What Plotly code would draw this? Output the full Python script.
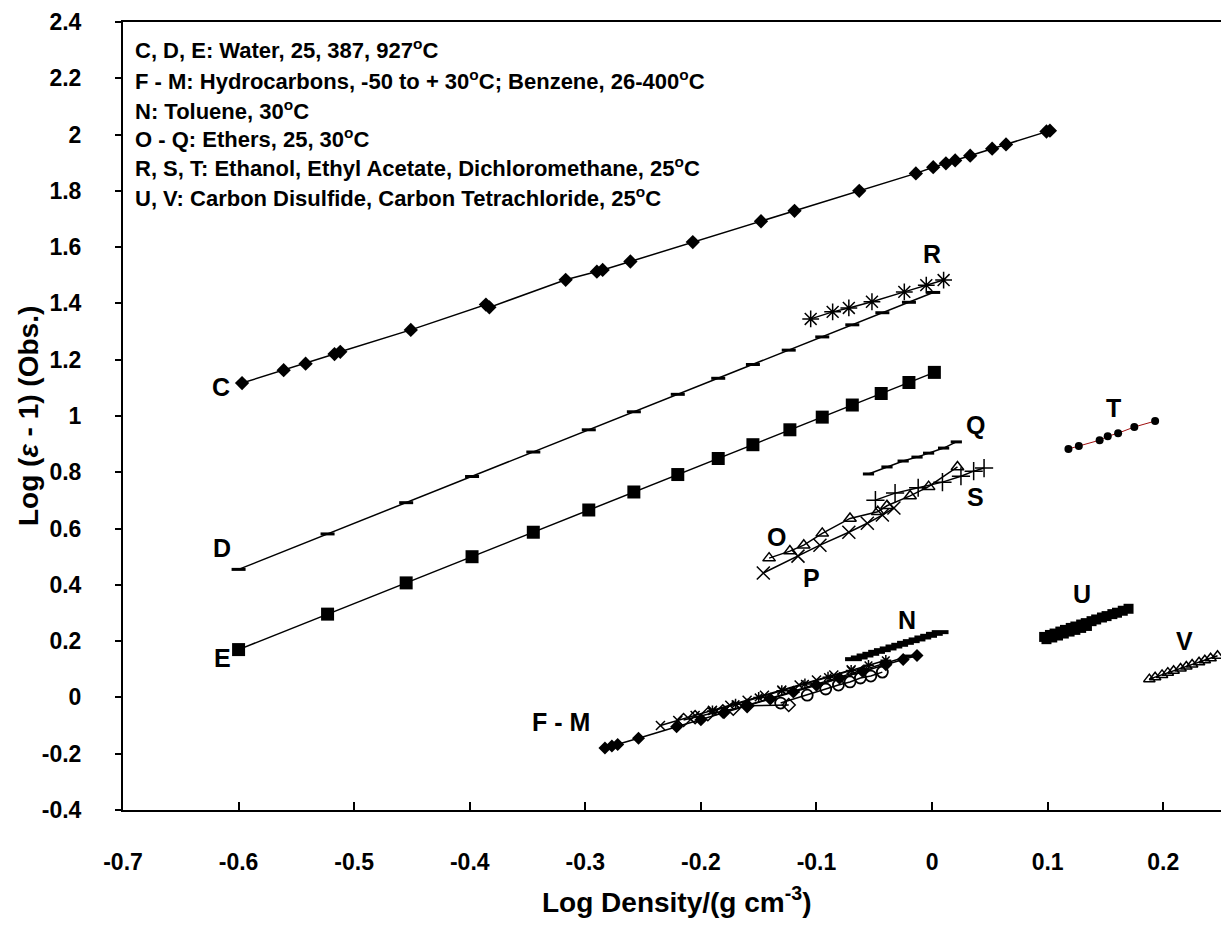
import plotly.graph_objects as go

# ---------------- data ----------------
C_x = [-0.597, -0.561, -0.542, -0.517, -0.512, -0.451, -0.386, -0.383, -0.317, -0.290, -0.285,
       -0.261, -0.207, -0.148, -0.119, -0.063, -0.014, 0.001, 0.012, 0.020, 0.033, 0.052, 0.064, 0.099, 0.102]
C_y = [1.117, 1.163, 1.186, 1.220, 1.228, 1.306, 1.396, 1.386, 1.484, 1.513, 1.519,
       1.549, 1.618, 1.692, 1.729, 1.800, 1.862, 1.884, 1.898, 1.908, 1.925, 1.950, 1.965, 2.011, 2.014]

D_x = [-0.600, -0.523, -0.455, -0.398, -0.345, -0.297, -0.258, -0.220, -0.185, -0.155,
       -0.124, -0.095, -0.069, -0.043, -0.020, 0.001]
D_y = [0.455, 0.581, 0.692, 0.785, 0.872, 0.951, 1.015, 1.077, 1.134, 1.183,
       1.234, 1.281, 1.324, 1.367, 1.404, 1.439]

E_x = [-0.600, -0.523, -0.455, -0.398, -0.345, -0.297, -0.258, -0.220, -0.185, -0.155,
       -0.123, -0.095, -0.069, -0.044, -0.020, 0.002]
E_y = [0.170, 0.296, 0.407, 0.500, 0.587, 0.666, 0.730, 0.792, 0.849, 0.898,
       0.951, 0.996, 1.039, 1.080, 1.119, 1.155]

# F - M : hydrocarbons / benzene
F_x = [-0.283, -0.277, -0.272, -0.254, -0.221, -0.200, -0.180, -0.160, -0.140, -0.120,
       -0.100, -0.080, -0.060, -0.040, -0.025, -0.013]
F_y = [-0.180, -0.173, -0.167, -0.145, -0.104, -0.079, -0.054, -0.030, -0.006, 0.019,
       0.043, 0.068, 0.092, 0.116, 0.135, 0.149]
G_x = [-0.215, -0.205, -0.194, -0.181, -0.172, -0.160, -0.124]
G_y = [-0.080, -0.070, -0.060, -0.049, -0.040, -0.030, -0.027]
H_x = [-0.131, -0.108, -0.092, -0.081, -0.071, -0.062, -0.053, -0.043]
H_y = [-0.020, 0.008, 0.030, 0.044, 0.055, 0.069, 0.076, 0.090]
I_x = [-0.235, -0.220, -0.205, -0.190, -0.175, -0.160, -0.145, -0.130, -0.115, -0.100, -0.085, -0.070]
I_y = [-0.100, -0.082, -0.064, -0.046, -0.028, -0.010, 0.008, 0.026, 0.044, 0.062, 0.080, 0.098]
J_x = [-0.190, -0.170, -0.150, -0.130, -0.110, -0.090, -0.070, -0.055, -0.040]
J_y = [-0.048, -0.024, 0.000, 0.024, 0.048, 0.072, 0.096, 0.114, 0.132]
K_x = [-0.160, -0.140, -0.120, -0.100, -0.080, -0.060, -0.040, -0.020]
K_y = [-0.028, -0.003, 0.022, 0.047, 0.072, 0.097, 0.122, 0.147]

N_x = [-0.068, -0.063, -0.058, -0.053, -0.048, -0.043, -0.038, -0.033, -0.028, -0.023,
       -0.018, -0.013, -0.008, -0.003, 0.002, 0.007]
N_y = [0.136, 0.142, 0.149, 0.155, 0.162, 0.168, 0.174, 0.181, 0.187, 0.194,
       0.200, 0.206, 0.213, 0.219, 0.226, 0.232]

O_x = [-0.141, -0.123, -0.111, -0.095, -0.071, -0.047, -0.039, -0.019, -0.003, 0.022]
O_y = [0.495, 0.520, 0.541, 0.583, 0.636, 0.660, 0.681, 0.716, 0.749, 0.819]
P_x = [-0.146, -0.116, -0.097, -0.072, -0.056, -0.043, -0.033]
P_y = [0.442, 0.502, 0.541, 0.587, 0.619, 0.648, 0.673]
Q_x = [-0.055, -0.039, -0.025, -0.013, -0.003, 0.010, 0.021]
Q_y = [0.794, 0.819, 0.840, 0.854, 0.868, 0.886, 0.908]

R_x = [-0.105, -0.086, -0.072, -0.052, -0.024, -0.005, 0.010]
R_y = [1.345, 1.370, 1.384, 1.406, 1.441, 1.465, 1.483]
S_x = [-0.049, -0.032, -0.012, 0.009, 0.025, 0.036, 0.045]
S_y = [0.701, 0.726, 0.745, 0.765, 0.786, 0.804, 0.815]
T_x = [0.118, 0.127, 0.145, 0.152, 0.161, 0.175, 0.193]
T_y = [0.883, 0.893, 0.914, 0.928, 0.939, 0.961, 0.982]

U_x = [0.097, 0.102, 0.106, 0.111, 0.115, 0.120, 0.124, 0.129, 0.133, 0.138, 0.142,
       0.147, 0.151, 0.156, 0.160, 0.165, 0.170]
U_y = [0.215, 0.222, 0.227, 0.234, 0.240, 0.247, 0.252, 0.259, 0.264, 0.271, 0.277,
       0.284, 0.289, 0.296, 0.301, 0.308, 0.315]
U2_x = [0.099, 0.104, 0.109, 0.114, 0.119, 0.124, 0.129, 0.134]
U2_y = [0.207, 0.213, 0.220, 0.227, 0.234, 0.240, 0.247, 0.254]
V_x = [0.188, 0.193, 0.199, 0.204, 0.209, 0.215, 0.220, 0.225, 0.231, 0.236, 0.241, 0.247]
V_y = [0.065, 0.072, 0.080, 0.088, 0.095, 0.103, 0.110, 0.117, 0.125, 0.132, 0.139, 0.148]

x_ticks = [-0.7, -0.6, -0.5, -0.4, -0.3, -0.2, -0.1, 0.0, 0.1, 0.2]
x_tick_text = ["-0.7", "-0.6", "-0.5", "-0.4", "-0.3", "-0.2", "-0.1", "0", "0.1", "0.2"]
y_ticks = [-0.4, -0.2, 0.0, 0.2, 0.4, 0.6, 0.8, 1.0, 1.2, 1.4, 1.6, 1.8, 2.0, 2.2, 2.4]
y_tick_text = ["-0.4", "-0.2", "0", "0.2", "0.4", "0.6", "0.8", "1", "1.2", "1.4", "1.6", "1.8", "2", "2.2", "2.4"]

legend_lines = [
    "C, D, E: Water, 25, 387, 927<sup>o</sup>C",
    "F - M: Hydrocarbons, -50 to + 30<sup>o</sup>C; Benzene, 26-400<sup>o</sup>C",
    "N: Toluene, 30<sup>o</sup>C",
    "O - Q: Ethers, 25, 30<sup>o</sup>C",
    "R, S, T: Ethanol, Ethyl Acetate, Dichloromethane, 25<sup>o</sup>C",
    "U, V: Carbon Disulfide, Carbon Tetrachloride, 25<sup>o</sup>C",
]
legend_y = [2.304, 2.194, 2.087, 1.988, 1.885, 1.778]

series_labels = ["C", "D", "E", "F - M", "N", "O", "P", "Q", "R", "S", "T", "U", "V"]
label_x = [-0.615, -0.614, -0.614, -0.321, -0.022, -0.135, -0.104, 0.038, -0.0004, 0.038, 0.157, 0.130, 0.218]
label_y = [1.103, 0.531, 0.140, -0.088, 0.275, 0.570, 0.424, 0.968, 1.576, 0.712, 1.028, 0.367, 0.200]

# ---------------- figure ----------------
FONT = "Liberation Sans, Arial, sans-serif"
fig = go.Figure()


def add(xs, ys, symbol, size, line=True, lw=1.5, mlw=1.5, lcolor="black", fill="black"):
    fig.add_trace(go.Scatter(
        x=xs, y=ys,
        mode="lines+markers" if line else "markers",
        line=dict(color=lcolor, width=lw),
        marker=dict(symbol=symbol, size=size, color=fill,
                    line=dict(color="black", width=mlw)),
        showlegend=False,
    ))


add(C_x, C_y, "diamond", 11, mlw=0)
add(D_x, D_y, "line-ew-open", 10, mlw=3)
add(E_x, E_y, "square", 13, mlw=0)

add(F_x, F_y, "diamond", 10, mlw=0)
add(G_x, G_y, "diamond-open", 10, mlw=1.5)
add(H_x, H_y, "circle-open", 11, mlw=1.8)
add(I_x, I_y, "x-thin-open", 9, mlw=1.5)
add(J_x, J_y, "asterisk-open", 9, mlw=1.5)
add(K_x, K_y, "line-ew-open", 9, mlw=3)

add(N_x, N_y, "line-ew-open", 12, mlw=4)

add(O_x, O_y, "triangle-up-open", 11, mlw=1.5)
add(P_x, P_y, "x-thin-open", 13, mlw=1.5)
add(Q_x, Q_y, "line-ew-open", 8, mlw=3)
add(R_x, R_y, "asterisk-open", 14, mlw=1.5)
add(S_x, S_y, "cross-thin-open", 13, mlw=1.5)
add(T_x, T_y, "circle", 8, lw=1, mlw=0, lcolor="#a01010")
add(U_x, U_y, "square", 10, mlw=0)
add(U2_x, U2_y, "square", 10, line=False, mlw=0)
add(V_x, V_y, "triangle-up-open", 10, mlw=1.5)

annotations = []
for txt, yy in zip(legend_lines, legend_y):
    annotations.append(dict(x=-0.691, y=yy, xref="x", yref="y", text="<b>" + txt + "</b>", showarrow=False,
                            xanchor="left", yanchor="middle",
                            font=dict(family=FONT, size=22, color="black")))
for txt, xx, yy in zip(series_labels, label_x, label_y):
    annotations.append(dict(x=xx, y=yy, xref="x", yref="y", text="<b>" + txt + "</b>", showarrow=False,
                            xanchor="center", yanchor="middle",
                            font=dict(family=FONT, size=25, color="black")))
annotations.append(dict(x=-0.0865, y=0.5, xref="paper", yref="paper",
                        text="<b>Log (<i>ε</i> - 1) (Obs.)</b>", textangle=-90, showarrow=False,
                        xanchor="center", yanchor="middle",
                        font=dict(family=FONT, size=28, color="black")))
annotations.append(dict(x=0.504, y=-0.114, xref="paper", yref="paper",
                        text="<b>Log Density/(g cm<sup>-3</sup>)</b>", showarrow=False,
                        xanchor="center", yanchor="middle",
                        font=dict(family=FONT, size=28, color="black")))

fig.update_layout(
    width=1221, height=929,
    margin=dict(l=123, r=0, t=22, b=119),
    paper_bgcolor="white", plot_bgcolor="white",
    showlegend=False,
    annotations=annotations,
    xaxis=dict(range=[-0.7, 0.25], tickvals=x_ticks, ticktext=x_tick_text,
               ticks="inside", ticklen=8, tickwidth=1.5, tickcolor="black",
               showline=True, linecolor="black", linewidth=2, mirror=True,
               showgrid=False, zeroline=False, ticklabelstandoff=30,
               tickfont=dict(family=FONT, size=23, color="black", weight="bold")),
    yaxis=dict(range=[-0.4, 2.4], tickvals=y_ticks, ticktext=y_tick_text,
               ticks="outside", ticklen=6, tickwidth=1.5, tickcolor="black",
               showline=True, linecolor="black", linewidth=2,
               showgrid=False, zeroline=False, ticklabelstandoff=29,
               tickfont=dict(family=FONT, size=23, color="black", weight="bold")),
)

fig.write_html("out.html")
